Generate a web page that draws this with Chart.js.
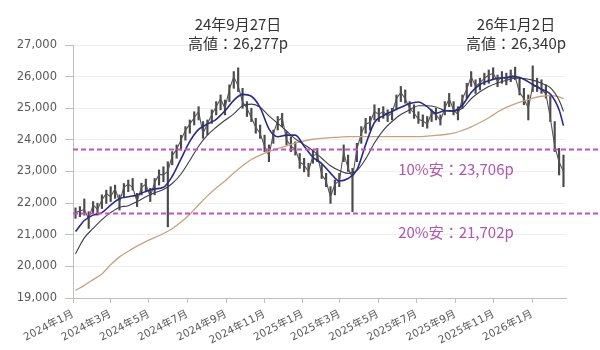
<!DOCTYPE html>
<html><head><meta charset="utf-8">
<script src="https://cdn.jsdelivr.net/npm/chart.js@4"></script>
<style>html,body{margin:0;padding:0;background:#fff}#wrap{width:600px;height:350px}</style>
</head><body><div id="wrap"><canvas id="c" width="600" height="350"></canvas></div>
<script>
// ---- data ----
const startDate = '2024-01-01';
const firstWeek = '2024-01-05';           // weekly candles, one per week
const weekLows = [21520,21570,21620,21200,21680,21620,21830,21990,22050,22150,21780,22200,22360,22410,21890,22260,22360,22050,22260,22570,22680,21250,23210,23420,23680,23990,24210,24470,24630,24050,24160,24520,24790,24950,24790,25210,25630,25530,25000,24740,24580,24210,24050,23630,23310,23890,24310,24420,23840,23630,23520,23100,22990,22840,23260,23310,22780,22520,21990,22260,22520,23310,23000,21730,23310,23890,24210,24310,24630,24580,24680,24580,24630,24950,25210,25160,24840,24680,24520,24420,24370,24580,24630,24470,24790,25050,24790,24630,25000,25320,25690,25470,25580,25740,25790,25900,25680,25790,25740,25840,25900,25420,25110,24630,25530,25530,25470,25320,24580,23630,22890,22520];
const weekHighs = [21850,21890,22130,21730,22050,22000,22260,22410,22520,22570,22260,22620,22730,22780,22310,22630,22760,22470,22780,23050,23150,23310,23630,23840,24150,24420,24630,24890,25050,24580,24630,24950,25210,25420,25260,25740,26160,26277,25630,25210,25000,24680,24470,24150,23840,24310,24740,24840,24260,24100,23940,23570,23420,23260,23680,23730,23210,22940,22520,22730,22940,23840,23520,23100,23890,24420,24680,24740,25110,25000,25050,24950,25000,25420,25690,25580,25210,25110,24890,24790,24740,24950,25000,24790,25210,25470,25210,25050,25420,25790,26160,25900,25950,26110,26210,26280,26050,26160,26110,26210,26300,25950,25630,25420,26340,25950,25900,25740,25420,24580,23730,23520];
const weekCloses = [21700,21750,21800,21500,21950,21800,22100,22300,22200,22450,22050,22500,22600,22500,22050,22500,22600,22200,22650,22900,22900,23000,23500,23700,24000,24300,24500,24700,24900,24200,24500,24800,25050,25300,25000,25600,26000,25700,25200,25000,24700,24400,24200,23800,23500,24200,24600,24700,24000,23800,23700,23300,23200,23000,23500,23550,22900,22700,22200,22600,22700,23600,23100,22800,23700,24200,24500,24550,24900,24800,24900,24750,24850,25300,25500,25300,25000,24850,24650,24600,24500,24850,24800,24600,25000,25300,24950,24800,25300,25600,26000,25700,25800,25950,26050,26100,25850,26000,25900,26050,26000,25500,25300,25000,25700,25700,25600,25450,24700,23800,23300,23000];
// moving averages, sampled every 2 weeks (last point = last week)
const maShort = [21100,21450,21620,21700,21940,22140,22200,22260,22370,22450,22500,22850,23400,23950,24330,24500,24650,24920,25250,25440,25380,25020,24350,24100,24150,24150,23800,23450,23250,22950,22700,22780,23050,23850,24550,24760,24900,25030,25150,25200,25050,24840,24920,24920,25100,25500,25750,25870,25950,25970,26000,25920,25750,25600,25450,24950,24450];
const maMid = [20400,20900,21200,21480,21700,21870,21920,22050,22200,22330,22430,22620,22920,23350,23800,24150,24400,24620,24820,25080,25130,25030,24760,24520,24280,24030,23850,23660,23420,23180,23030,22940,23030,23400,23900,24300,24580,24800,24950,25080,25080,25040,24930,24900,25000,25300,25520,25690,25800,25880,25950,25940,25890,25790,25650,25250,24900];
const maLong = [19240,19400,19580,19760,20050,20300,20480,20640,20780,20910,21040,21190,21400,21650,21950,22230,22480,22700,22950,23180,23380,23520,23630,23720,23810,23900,23970,24020,24050,24070,24090,24100,24100,24100,24100,24100,24100,24100,24100,24100,24120,24140,24170,24210,24300,24410,24550,24700,24880,25030,25140,25230,25320,25380,25400,25360,25300];
const tickDates = ['2024-01-01','2024-03-01','2024-05-01','2024-07-01','2024-09-01','2024-11-01','2025-01-01','2025-03-01','2025-05-01','2025-07-01','2025-09-01','2025-11-01','2026-01-01'];
const tickLabels = ['2024年1月','2024年3月','2024年5月','2024年7月','2024年9月','2024年11月','2025年1月','2025年3月','2025年5月','2025年7月','2025年9月','2025年11月','2026年1月'];
const levelValues = [23706, 21702];
const levelLabels = ['10%安：23,706p', '20%安：21,702p'];
const peakDates = ['24年9月27日', '26年1月2日'];
const peakLabels = ['高値：26,277p', '高値：26,340p'];

// ---- build ----
const DAY = 864e5;
const dayOf = s => Math.round((Date.parse(s) - Date.parse(startDate)) / DAY);
const w0 = dayOf(firstWeek);
const weekX = i => w0 + 7 * i;
const nW = weekCloses.length;
const tickDays = tickDates.map(dayOf);
const maX = k => weekX(Math.min(2 * k, nW - 1));

const rangeData = weekLows.map((lo, i) => ({x: weekX(i), y: [lo, weekHighs[i]]}));
const closeData = weekCloses.map((c, i) => ({x: weekX(i), y: c}));
const maPts = arr => arr.map((v, k) => ({x: maX(k), y: v}));

const FONT = "'DejaVu Sans','Noto Sans CJK JP',sans-serif";
const JFONT = "'Noto Sans CJK JP','DejaVu Sans',sans-serif";

const annot = {
  id: 'annot',
  afterDatasetsDraw(chart) {
    const {ctx, chartArea, scales} = chart;
    ctx.save();
    ctx.strokeStyle = '#C84FC8';
    ctx.lineWidth = 2;
    ctx.setLineDash([5, 3]);
    levelValues.forEach(v => {
      const y = Math.round(scales.y.getPixelForValue(v)) + 0.5;
      ctx.beginPath(); ctx.moveTo(chartArea.left, y); ctx.lineTo(chart.width, y); ctx.stroke();
    });
    ctx.restore();
  },
  afterDraw(chart) {
    const {ctx, scales} = chart;
    ctx.save();
    ctx.textAlign = 'center';
    ctx.textBaseline = 'middle';
    ctx.font = '15px ' + JFONT;
    ctx.fillStyle = '#B055B0';
    levelValues.forEach((v, i) => {
      ctx.fillText(levelLabels[i], 456, scales.y.getPixelForValue(v) + 20);
    });
    ctx.fillStyle = '#333333';
    const cx = [238, 516];
    peakDates.forEach((d, i) => {
      ctx.fillText(d, cx[i], 24);
      ctx.fillText(peakLabels[i], cx[i], 43);
    });
    ctx.restore();
  }
};

new Chart(document.getElementById('c'), {
  type: 'line',
  data: {
    datasets: [
      {type: 'line', data: maPts(maShort), borderColor: '#2A2A8A', borderWidth: 1.6, pointRadius: 0, tension: 0.4, cubicInterpolationMode: 'monotone', order: 1},
      {type: 'line', data: maPts(maMid), borderColor: '#3C3C4E', borderWidth: 1.1, pointRadius: 0, tension: 0.4, cubicInterpolationMode: 'monotone', order: 2},
      {type: 'line', data: maPts(maLong), borderColor: '#C9A27C', borderWidth: 1.3, pointRadius: 0, tension: 0.4, cubicInterpolationMode: 'monotone', order: 3},
      {type: 'line', data: closeData, borderColor: '#555555', borderWidth: 1.1, pointRadius: 0, tension: 0, order: 4},
      {type: 'bar', data: rangeData, backgroundColor: '#4A4A4A', barThickness: 1.5, borderSkipped: false, order: 5}
    ]
  },
  options: {
    responsive: false,
    animation: false,
    devicePixelRatio: 1,
    layout: {padding: {left: 0, right: 34, top: 45, bottom: 0}, autoPadding: false},
    plugins: {legend: {display: false}, tooltip: {enabled: false}},
    scales: {
      x: {
        type: 'linear', min: 0, max: 785, offset: false,
        afterBuildTicks: s => { s.ticks = tickDays.map(v => ({value: v})); },
        afterFit: s => { s.height = 52; },
        ticks: {
          autoSkip: false, minRotation: 27, maxRotation: 27, padding: 5,
          color: '#595959', font: {family: FONT, size: 10.5},
          callback: v => tickLabels[tickDays.indexOf(v)]
        },
        grid: {drawOnChartArea: false, offset: false, tickLength: 5, color: '#BFBFBF'},
        border: {color: '#BFBFBF'}
      },
      y: {
        min: 19000, max: 27000,
        afterFit: s => { s.width = 73; },
        ticks: {stepSize: 1000, padding: 8, color: '#595959', font: {family: FONT, size: 11.5},
          callback: v => v.toLocaleString('en-US')},
        grid: {color: '#EFEFEF', tickColor: '#BFBFBF', tickLength: 8},
        border: {color: '#BFBFBF'}
      }
    }
  },
  plugins: [annot]
});
</script>
</body></html>
